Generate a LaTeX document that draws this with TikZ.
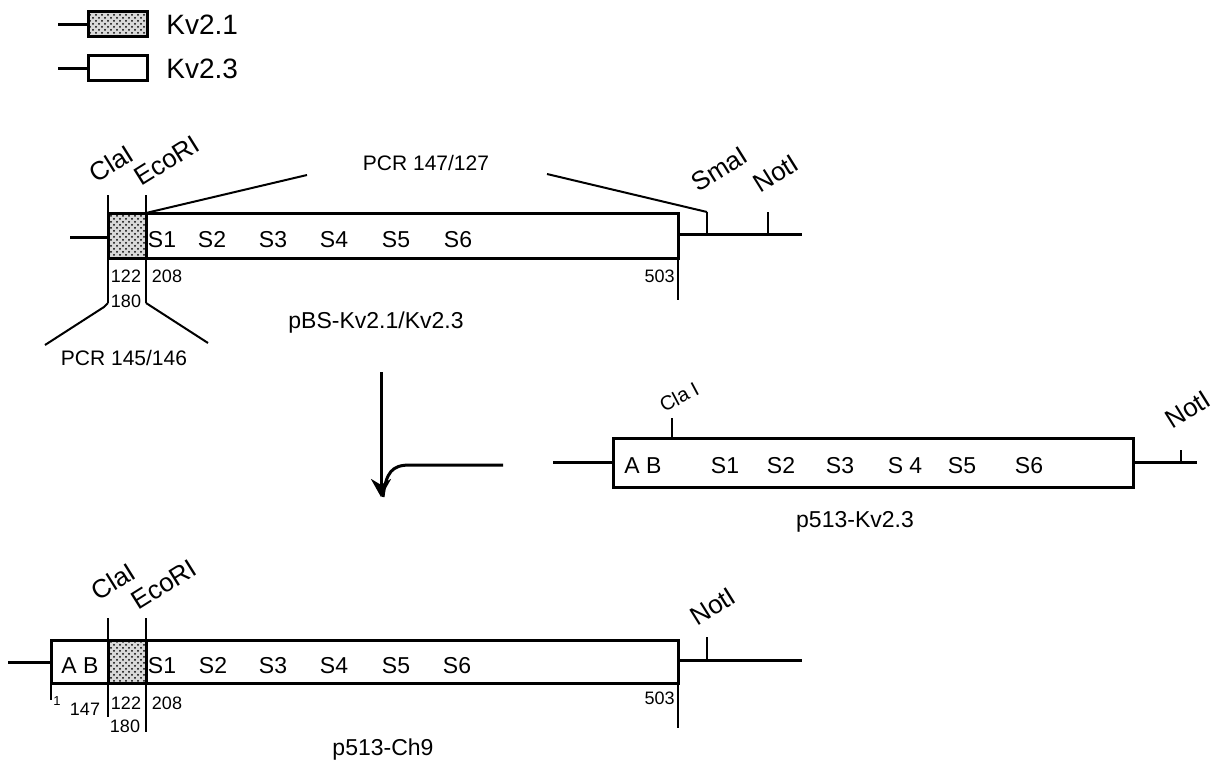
\documentclass[tikz,border=0pt]{standalone}
\usepackage{fontspec}
\setmainfont{Liberation Sans}
\usetikzlibrary{patterns,arrows.meta}

\tikzset{
  dna/.style={line width=1.5pt},
  thin cut/.style={line width=0.6pt},
  orf/.style={draw,line width=1.5pt},
  kvone/.style={orf,preaction={fill=gray!30},pattern=crosshatch dots},
  primer/.style={line width=1pt},
  sitetext/.style={rotate=32,anchor=base west,inner sep=0pt,font=\fontsize{13}{13}\selectfont},
  segtext/.style={inner sep=0pt,font=\fontsize{11.5}{11.5}\selectfont},
  numtext/.style={inner sep=0pt,font=\fontsize{9}{9}\selectfont},
  nametext/.style={inner sep=0pt,font=\fontsize{11.5}{11.5}\selectfont},
}

\begin{document}
\begin{tikzpicture}[x=0.5pt,y=0.5pt]
\useasboundingbox (0,0) rectangle (1231,-765);

% legend
\draw[dna] (58,-25) -- (88,-25);
\filldraw[kvone] (88,-12) rectangle (147,-37);
\node[anchor=west,inner sep=0pt,font=\fontsize{14}{14}\selectfont] (lgone) at (166,-25) {Kv2.1};
\draw[dna] (58,-69) -- (88,-69);
\draw[orf] (88,-56) rectangle (147,-81);
\node[anchor=west,inner sep=0pt,font=\fontsize{14}{14}\selectfont] (lgthree) at (166,-69) {Kv2.3};

% pBS-Kv2.1/Kv2.3
\draw[dna] (70,-237) -- (108,-237);
\draw[kvone] (108,-213) rectangle (146,-258);
\draw[orf] (146,-213) rectangle (678,-258);
\draw[dna] (678,-234) -- (802,-234);
\draw[thin cut] (108,-195) -- (108,-303);
\draw[thin cut] (146,-195) -- (146,-303);
\draw[thin cut] (678,-258) -- (678,-300);
\draw[thin cut] (707,-212) -- (707,-234);
\draw[thin cut] (768,-212) -- (768,-234);
\node[sitetext] (claA) at (96,-184) {ClaI};
\node[sitetext] (ecoA) at (141,-187) {EcoRI};
\node[sitetext] (smaA) at (698,-193) {SmaI};
\node[sitetext] (notA) at (760,-194) {NotI};
\foreach \s/\x in {1/162,2/212,3/273,4/334,5/396,6/458}
  \node[segtext] (topS\s) at (\x,-240) {S\s};
\node[numtext] (topa) at (126,-276) {122};
\node[numtext] (topb) at (167,-276) {208};
\node[numtext] (topc) at (126,-301) {180};
\node[numtext,anchor=east] (topd) at (675,-276) {503};
\node[nametext] (pbs) at (376,-323) {pBS-Kv2.1/Kv2.3};
% PCR fragments
\coordinate (pcrAl) at (146,-213);
\coordinate (pcrAm) at (307,-175);
\coordinate (pcrAn) at (547,-174);
\coordinate (pcrAr) at (707,-212);
\draw[primer] (pcrAl) -- (pcrAm);
\draw[primer] (pcrAn) -- (pcrAr);
\node[font=\fontsize{10.5}{10.5}\selectfont,inner sep=0pt] (pcrtop) at (426,-163) {PCR 147/127};
\draw[primer] (108,-303) -- (104,-307) -- (45,-345);
\draw[primer] (146,-303) -- (208,-343);
\node[font=\fontsize{10.5}{10.5}\selectfont,inner sep=0pt] (pcrbot) at (124,-358) {PCR 145/146};

% ligation arrow
\coordinate (arrtop) at (381,-372);
\coordinate (arrtip) at (381,-497);
\draw[dna,-{Stealth[length=9pt,width=10pt]}] (arrtop) -- (arrtip);
\draw[dna] (383,-497) .. controls (386,-472) and (392,-465) .. (410,-465) -- (503,-465);

% p513-Kv2.3
\draw[dna] (553,-462) -- (613,-462);
\draw[orf] (613,-438) rectangle (1133,-487);
\draw[dna] (1133,-462) -- (1197,-462);
\draw[thin cut] (672,-418) -- (672,-438);
\draw[thin cut] (1181,-450) -- (1181,-462);
\node[sitetext,rotate=-4,font=\fontsize{10}{10}\selectfont] (claB) at (664,-413) {Cla I};
\node[sitetext] (notB) at (1172,-430) {NotI};
\node[segtext] (ab) at (643,-466) {A B};
\foreach \s/\x in {1/725,2/781,3/840,5/962,6/1029}
  \node[segtext] (kvS\s) at (\x,-466) {S\s};
\node[segtext] (kvSfour) at (905,-466) {S 4};
\node[nametext] (pkv) at (855,-522) {p513-Kv2.3};

% p513-Ch9
\draw[dna] (8,-662) -- (51,-662);
\draw[orf] (51,-640) rectangle (108,-683);
\draw[kvone] (108,-640) rectangle (146,-683);
\draw[orf] (146,-640) rectangle (678,-683);
\draw[dna] (678,-660) -- (802,-660);
\draw[thin cut] (108,-618) -- (108,-717);
\draw[thin cut] (146,-618) -- (146,-732);
\draw[thin cut] (51,-683) -- (51,-700);
\draw[thin cut] (678,-683) -- (678,-728);
\draw[thin cut] (707,-637) -- (707,-660);
\node[sitetext] (claC) at (98,-602) {ClaI};
\node[sitetext] (ecoC) at (138,-611) {EcoRI};
\node[sitetext] (notC) at (697,-627) {NotI};
\node[segtext] (abc) at (80,-666) {A B};
\foreach \s/\x in {1/162,2/213,3/273,4/334,5/396,6/457}
  \node[segtext] (chS\s) at (\x,-666) {S\s};
\node[numtext,font=\fontsize{6.5}{6.5}\selectfont] (cha) at (57,-701) {1};
\node[numtext] (chb) at (85,-709) {147};
\node[numtext] (chc) at (126,-703) {122};
\node[numtext] (chd) at (167,-703) {208};
\node[numtext] (che) at (125,-726) {180};
\node[numtext,anchor=east] (chf) at (675,-698) {503};
\node[nametext] (pch) at (383,-750) {p513-Ch9};
\end{tikzpicture}
\end{document}
